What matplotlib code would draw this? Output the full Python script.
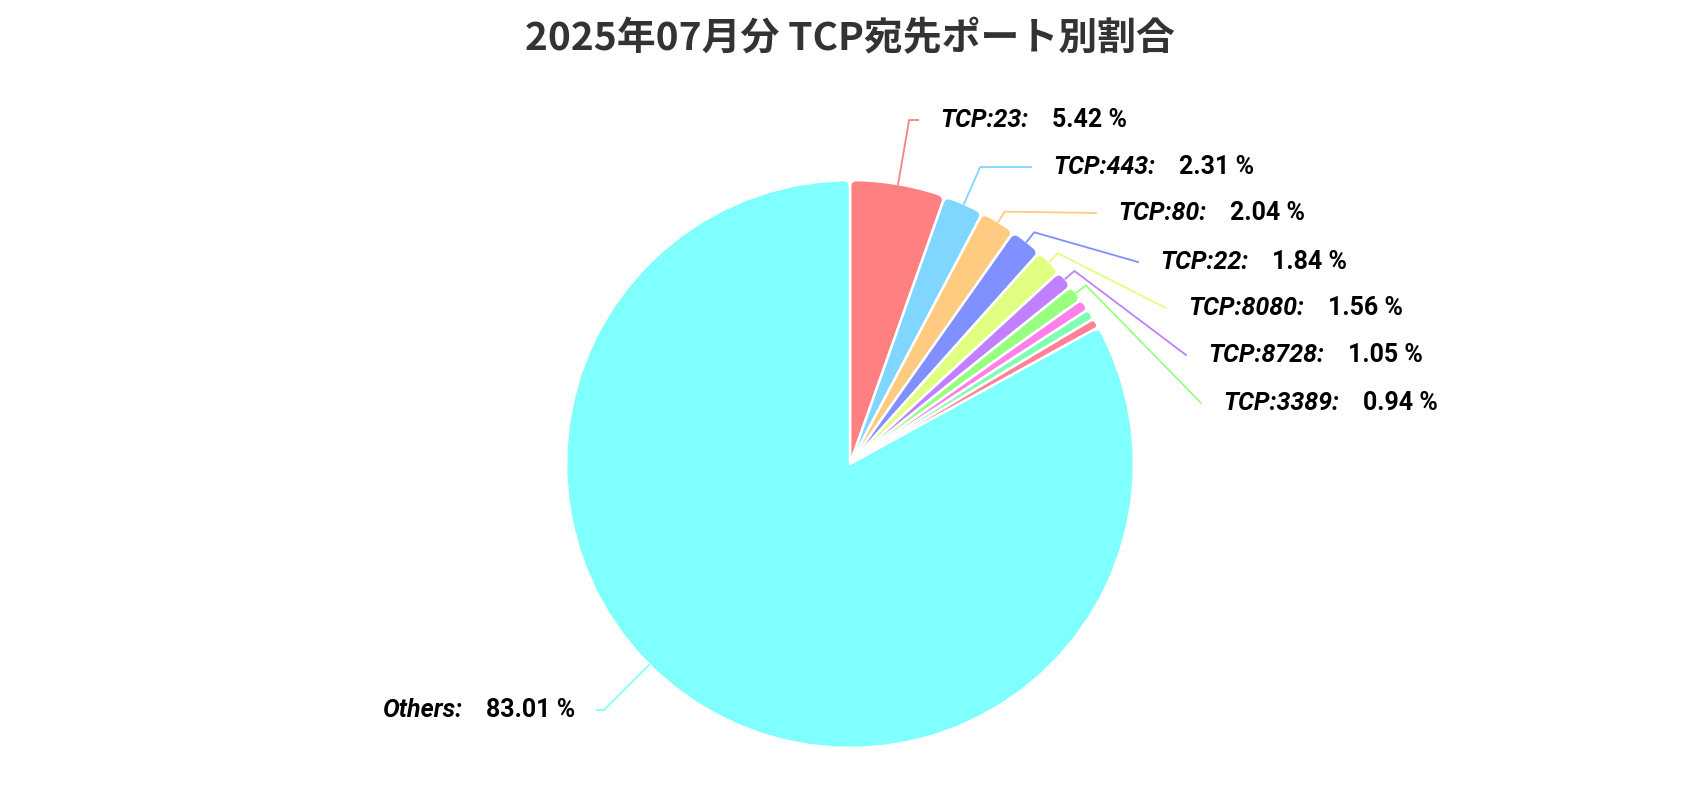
#!/usr/bin/env python3

import numpy as np
import matplotlib.pyplot as plt
from matplotlib.path import Path
from matplotlib.patches import PathPatch

plt.rcParams['font.family'] = ['Noto Sans CJK JP', 'DejaVu Sans']

# Data
title = '2025年07月分 TCP宛先ポート別割合'
ports = ['TCP:23', 'TCP:443', 'TCP:80', 'TCP:22', 'TCP:8080', 'TCP:8728', 'TCP:3389',
         None, None, None, 'Others']
shares = [5.42, 2.31, 2.04, 1.84, 1.56, 1.05, 0.94, 0.68, 0.60, 0.55, 83.01]
colors = ['#FF8080', '#80D6FF', '#FFCB80', '#8090FF', '#E1FF80', '#C080FF', '#99FF80',
          '#FF80EA', '#80FFB3', '#FF8099', '#80FFFF']

# Label layout (pixel positions, y measured from top)
label_x = [940, 1053, 1118, 1160, 1188, 1208, 1223, None, None, None, 575]
label_y = [120, 167, 213, 262, 308, 355, 403, None, None, None, 710]
line_angle_override = {10: -135.0}

W, H = 1700, 800
CX, CY, R = 850, 464, 284
LABEL_FONT = 'Roboto'
LABEL_SIZE = 18


def py(y):
    return H - y


def rounded_wedge(center, r, t1, t2, rc):
    cx, cy = center
    span = np.radians(t2 - t1)
    c = min(rc, r * span / 2 * 0.95)
    dth = np.degrees(c / r)

    def pt(rad, ang):
        a = np.radians(ang)
        return (cx + rad * np.cos(a), cy + rad * np.sin(a))

    verts = [(cx, cy), pt(r - c, t1), pt(r, t1), pt(r, t1 + dth)]
    codes = [Path.MOVETO, Path.LINETO, Path.CURVE3, Path.CURVE3]
    for ang in np.linspace(t1 + dth, t2 - dth, 60)[1:]:
        verts.append(pt(r, ang))
        codes.append(Path.LINETO)
    verts += [pt(r, t2), pt(r - c, t2), (cx, cy)]
    codes += [Path.CURVE3, Path.CURVE3, Path.CLOSEPOLY]
    return Path(verts, codes)


fig = plt.figure(figsize=(W / 100, H / 100), dpi=100)
ax = fig.add_axes([0, 0, 1, 1])

wedges, _ = ax.pie(shares, colors=colors, startangle=90, counterclock=False,
                   radius=R, center=(CX, py(CY)), wedgeprops=dict(linewidth=0))

for w, col in zip(wedges, colors):
    w.set_visible(False)
    path = rounded_wedge(w.center, w.r, w.theta1, w.theta2, 7)
    ax.add_patch(PathPatch(path, facecolor=col, edgecolor='white',
                           linewidth=1.8, joinstyle='round'))

ax.set_xlim(0, W)
ax.set_ylim(0, H)
ax.set_aspect('equal')
ax.axis('off')

fig.text(0.5, 1 - 39 / H, title, ha='center', va='center', fontsize=28,
         fontweight='bold', color='#333333')

renderer = fig.canvas.get_renderer()
inv = ax.transData.inverted()

for i, (w, name) in enumerate(zip(wedges, ports)):
    if name is None:
        continue
    ang = line_angle_override.get(i, (w.theta1 + w.theta2) / 2)
    a = np.radians(ang)
    ly = label_y[i]
    right_side = np.cos(a) >= 0

    sx, sy = CX + R * np.cos(a), CY - R * np.sin(a)
    t = (CY - ly) / np.sin(a) if abs(np.sin(a)) > 1e-6 else -1
    t = max(t, R + 12)
    ex, ey = CX + t * np.cos(a), CY - t * np.sin(a)
    if right_side:
        endx = label_x[i] - 22
    else:
        endx = label_x[i] + 22
    ax.plot([sx, ex, endx], [py(sy), py(ey), py(ly)], color=colors[i],
            linewidth=1.3, solid_joinstyle='miter')

    value = f'{shares[i]:.2f} %'
    if right_side:
        t1 = ax.text(label_x[i], py(ly), name + ':', ha='left', va='center',
                     fontsize=LABEL_SIZE, fontweight='bold', fontstyle='italic',
                     family=LABEL_FONT, color='black')
        bb = inv.transform(t1.get_window_extent(renderer))
        ax.text(bb[1][0] + 24, py(ly), value, ha='left', va='center',
                fontsize=LABEL_SIZE, fontweight='bold', family=LABEL_FONT, color='black')
    else:
        t2 = ax.text(label_x[i], py(ly), value, ha='right', va='center',
                     fontsize=LABEL_SIZE, fontweight='bold', family=LABEL_FONT, color='black')
        bb = inv.transform(t2.get_window_extent(renderer))
        ax.text(bb[0][0] - 24, py(ly), name + ':', ha='right', va='center',
                fontsize=LABEL_SIZE, fontweight='bold', fontstyle='italic',
                family=LABEL_FONT, color='black')

plt.savefig('out.png', dpi=100)
plt.close()
